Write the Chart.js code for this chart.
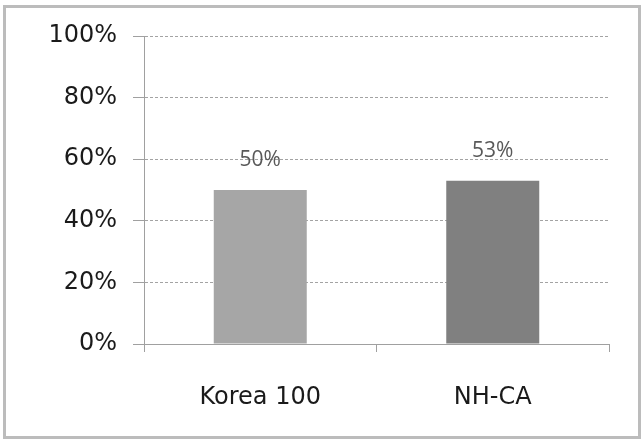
<!DOCTYPE html>
<html>
<head>
<meta charset="utf-8">
<script src="https://cdn.jsdelivr.net/npm/chart.js@4/dist/chart.umd.min.js"></script>
<style>
  html, body { margin: 0; padding: 0; background: #fff; }
  #frame {
    position: absolute; left: 3px; top: 5px; width: 632px; height: 428px;
    border: 3px solid #bcbcbc; box-sizing: content-box;
  }
  canvas { position: absolute; left: 0; top: 0; }
</style>
</head>
<body>
<div id="frame"></div>
<canvas id="c" width="644" height="439"></canvas>
<script>
const categories = ['Korea 100', 'NH-CA'];
const shares = [50, 53];
const barColors = ['#a6a6a6', '#808080'];
const yTicks = [0, 20, 40, 60, 80, 100];

// Writes each bar's percentage a little above its top.
const valueLabels = {
  id: 'valueLabels',
  afterDatasetsDraw(chart) {
    const ctx = chart.ctx;
    const meta = chart.getDatasetMeta(0);
    ctx.save();
    ctx.font = '21px "Open Sans", sans-serif';
    ctx.fillStyle = '#595959';
    ctx.textAlign = 'center';
    ctx.textBaseline = 'middle';
    meta.data.forEach((bar, i) => {
      ctx.fillText(shares[i] + '%', bar.x, bar.y - 30);
    });
    ctx.restore();
  }
};

new Chart(document.getElementById('c'), {
  type: 'bar',
  data: {
    labels: categories,
    datasets: [{
      data: shares,
      backgroundColor: barColors,
      borderWidth: 0,
      categoryPercentage: 1,
      barPercentage: 0.4
    }]
  },
  options: {
    responsive: false,
    animation: false,
    layout: { padding: { left: 0, right: 35, top: 36, bottom: 0 } },
    plugins: { legend: { display: false }, tooltip: { enabled: false } },
    scales: {
      x: {
        afterFit(scale) { scale.height = 439 - 344; },
        grid: {
          drawOnChartArea: false,
          offset: true,
          color: '#a0a0a0',
          tickLength: 8
        },
        border: { color: '#a0a0a0', width: 1 },
        ticks: {
          color: '#1a1a1a',
          font: { family: '"DejaVu Sans", sans-serif', size: 24 },
          padding: 31
        }
      },
      y: {
        min: 0,
        max: 100,
        afterFit(scale) { scale.width = 144; },
        afterBuildTicks(scale) { scale.ticks = yTicks.map(v => ({ value: v })); },
        grid: {
          color: '#a3a3a3',
          tickBorderDash: [],
          tickColor: '#a0a0a0',
          tickLength: 11
        },
        border: { color: '#a0a0a0', width: 1, dash: [3, 2] },
        ticks: {
          color: '#1a1a1a',
          font: { family: '"DejaVu Sans", sans-serif', size: 24 },
          padding: 16,
          callback: v => v + '%'
        }
      }
    }
  },
  plugins: [valueLabels]
});
</script>
</body>
</html>
